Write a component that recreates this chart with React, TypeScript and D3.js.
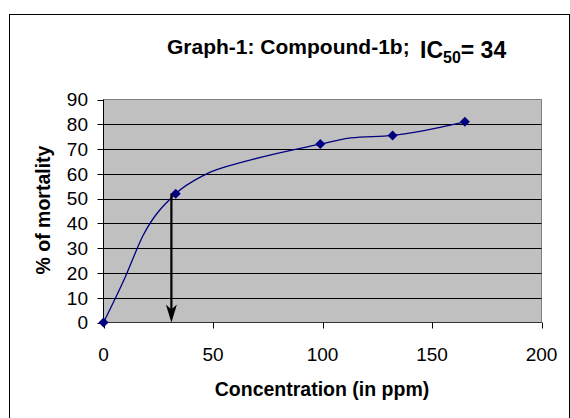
import React from "react";
import * as d3 from "d3";

const concentration = [0, 33, 99, 132, 165];
const mortality = [0, 52, 72, 75.5, 81];
// smoothed line
const lineConc = [0, 10, 18, 33, 46, 66, 99, 113, 132, 165];
const lineMort = [0, 18.5, 35, 52, 59.5, 65.3, 72, 74.5, 75.5, 81];
const xTicks = [0, 50, 100, 150, 200];
const yTicks = [0, 10, 20, 30, 40, 50, 60, 70, 80, 90];
const ic50ArrowX = 31;
const ic50ArrowTop = 52;

const W = 570;
const H = 418;
const M = { left: 103.5, right: 541.5, top: 99.5, bottom: 322.5 };
const FONT = "'Liberation Sans', Arial, sans-serif";

export default function App() {
  const x = d3.scaleLinear().domain([0, 200]).range([M.left, M.right]);
  const y = d3.scaleLinear().domain([0, 90]).range([M.bottom, M.top]);
  const pts: [number, number][] = lineConc.map((c, i) => [c, lineMort[i]]);
  const line = d3
    .line<[number, number]>()
    .x((d) => x(d[0]))
    .y((d) => y(d[1]))
    .curve(d3.curveMonotoneX);
  const ax = x(ic50ArrowX);
  const tipY = y(0);
  return (
    <svg
      width={W}
      height={H}
      style={{ position: "absolute", left: 0, top: 0, background: "#fff" }}
      fontFamily={FONT}
    >
      <rect x={9.5} y={14.5} width={560} height={420} fill="#fff" stroke="#000" strokeWidth={1} />
      <text x={167} y={54} fontSize={21} fontWeight="bold" fill="#000">
        Graph-1: Compound-1b;
      </text>
      <text x={420} y={58} fontSize={23} fontWeight="bold" fill="#000">
        IC
        <tspan fontSize={16} dy={5}>50</tspan>
        <tspan dy={-5}>= 34</tspan>
      </text>
      <rect
        x={M.left}
        y={M.top}
        width={M.right - M.left}
        height={M.bottom - M.top}
        fill="#C0C0C0"
        stroke="#808080"
        strokeWidth={1}
      />
      {yTicks
        .filter((t) => t > 0 && t < 90)
        .map((t) => (
          <line key={"g" + t} x1={M.left} x2={M.right} y1={Math.round(y(t)) + 0.5} y2={Math.round(y(t)) + 0.5} stroke="#000" strokeWidth={1} />
        ))}
      <line x1={M.left} x2={M.left} y1={M.top} y2={M.bottom} stroke="#000" />
      <line x1={M.left} x2={M.right} y1={M.bottom} y2={M.bottom} stroke="#333" />
      {yTicks.map((t) => (
        <g key={"y" + t}>
          <line x1={M.left - 6} x2={M.left} y1={Math.round(y(t)) + 0.5} y2={Math.round(y(t)) + 0.5} stroke="#000" />
          <text x={88} y={y(t)} dy="0.36em" textAnchor="end" fontSize={19} fill="#000">
            {t}
          </text>
        </g>
      ))}
      {xTicks.map((t) => (
        <g key={"x" + t}>
          <line x1={Math.round(x(t)) + 0.5} x2={Math.round(x(t)) + 0.5} y1={M.bottom} y2={M.bottom + 6} stroke="#000" />
          <text x={x(t)} y={361} textAnchor="middle" fontSize={19} fill="#000">
            {t}
          </text>
        </g>
      ))}
      <text x={322} y={396} textAnchor="middle" fontSize={19.5} fontWeight="bold" fill="#000">
        Concentration (in ppm)
      </text>
      <text
        transform={`translate(50,210) rotate(-90)`}
        textAnchor="middle"
        fontSize={19.5}
        fontWeight="bold"
        fill="#000"
      >
        % of mortality
      </text>
      <path d={line(pts) || ""} fill="none" stroke="#000080" strokeWidth={1.3} />
      {concentration.map((c, i) => {
        const cx = x(c);
        const cy = y(mortality[i]);
        const r = 5;
        return (
          <path
            key={"m" + i}
            d={`M${cx},${cy - r}L${cx + r},${cy}L${cx},${cy + r}L${cx - r},${cy}Z`}
            fill="#000080"
          />
        );
      })}
      <line x1={ax} x2={ax} y1={y(ic50ArrowTop)} y2={tipY - 10} stroke="#000" strokeWidth={2.2} />
      <path
        d={`M${ax},${tipY}L${ax - 5.5},${tipY - 18}L${ax},${tipY - 13}L${ax + 5.5},${tipY - 18}Z`}
        fill="#000"
      />
    </svg>
  );
}
